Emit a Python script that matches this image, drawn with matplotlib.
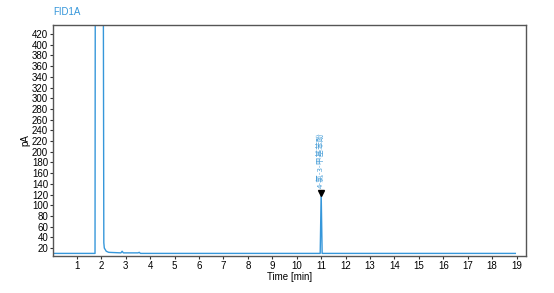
import matplotlib.pyplot as plt
import numpy as np

# chromatogram trace (time in min, signal in pA)
times = [0.05, 1.74, 1.75, 1.78, 2.08, 2.10, 2.12, 2.20, 2.30, 2.80, 2.85, 2.90,
         3.50, 3.55, 3.60, 10.96, 11.00, 11.04, 18.95]
signal = [10, 10, 500, 500, 500, 30, 20, 14, 12, 11, 14, 11,
          11, 12, 10, 10, 123, 10, 10]

peak_time = 11.0
peak_height = 123
peak_label = '4-氯-3-甲基苯酚'

xticks = list(range(1, 20))
yticks = list(range(20, 421, 20))

line_color = '#3697da'

plt.rcParams['font.family'] = ['Liberation Sans', 'DejaVu Sans']

fig = plt.figure(figsize=(5.54, 2.93), dpi=100)
ax = fig.add_axes([0.0957, 0.126, 0.853, 0.789])

ax.plot(times, signal, color=line_color, linewidth=1.0)

# peak marker + name
ax.plot([peak_time], [peak_height], marker='v', color='black', markersize=4)
ax.text(peak_time, peak_height + 10, peak_label, rotation=90, ha='center', va='bottom',
        color='#4a9fd8', fontsize=5.6, family=['Noto Sans CJK SC', 'DejaVu Sans'])

ax.set_xlim(0.02, 19.37)
ax.set_ylim(5, 437)
ax.set_xticks(xticks)
ax.set_yticks(yticks)
ax.tick_params(labelsize=7, length=2.5, width=0.8, pad=1, color='#333333')
ax.set_xlabel('Time [min]', fontsize=7, labelpad=1)
ax.set_ylabel('pA', fontsize=7, labelpad=1)
for s in ax.spines.values():
    s.set_color('#555555')
    s.set_linewidth(1.0)

ax.text(0.0, 1.035, 'FID1A', transform=ax.transAxes, color=line_color, fontsize=7,
        ha='left', va='bottom')

fig.savefig('out.png', dpi=100)
